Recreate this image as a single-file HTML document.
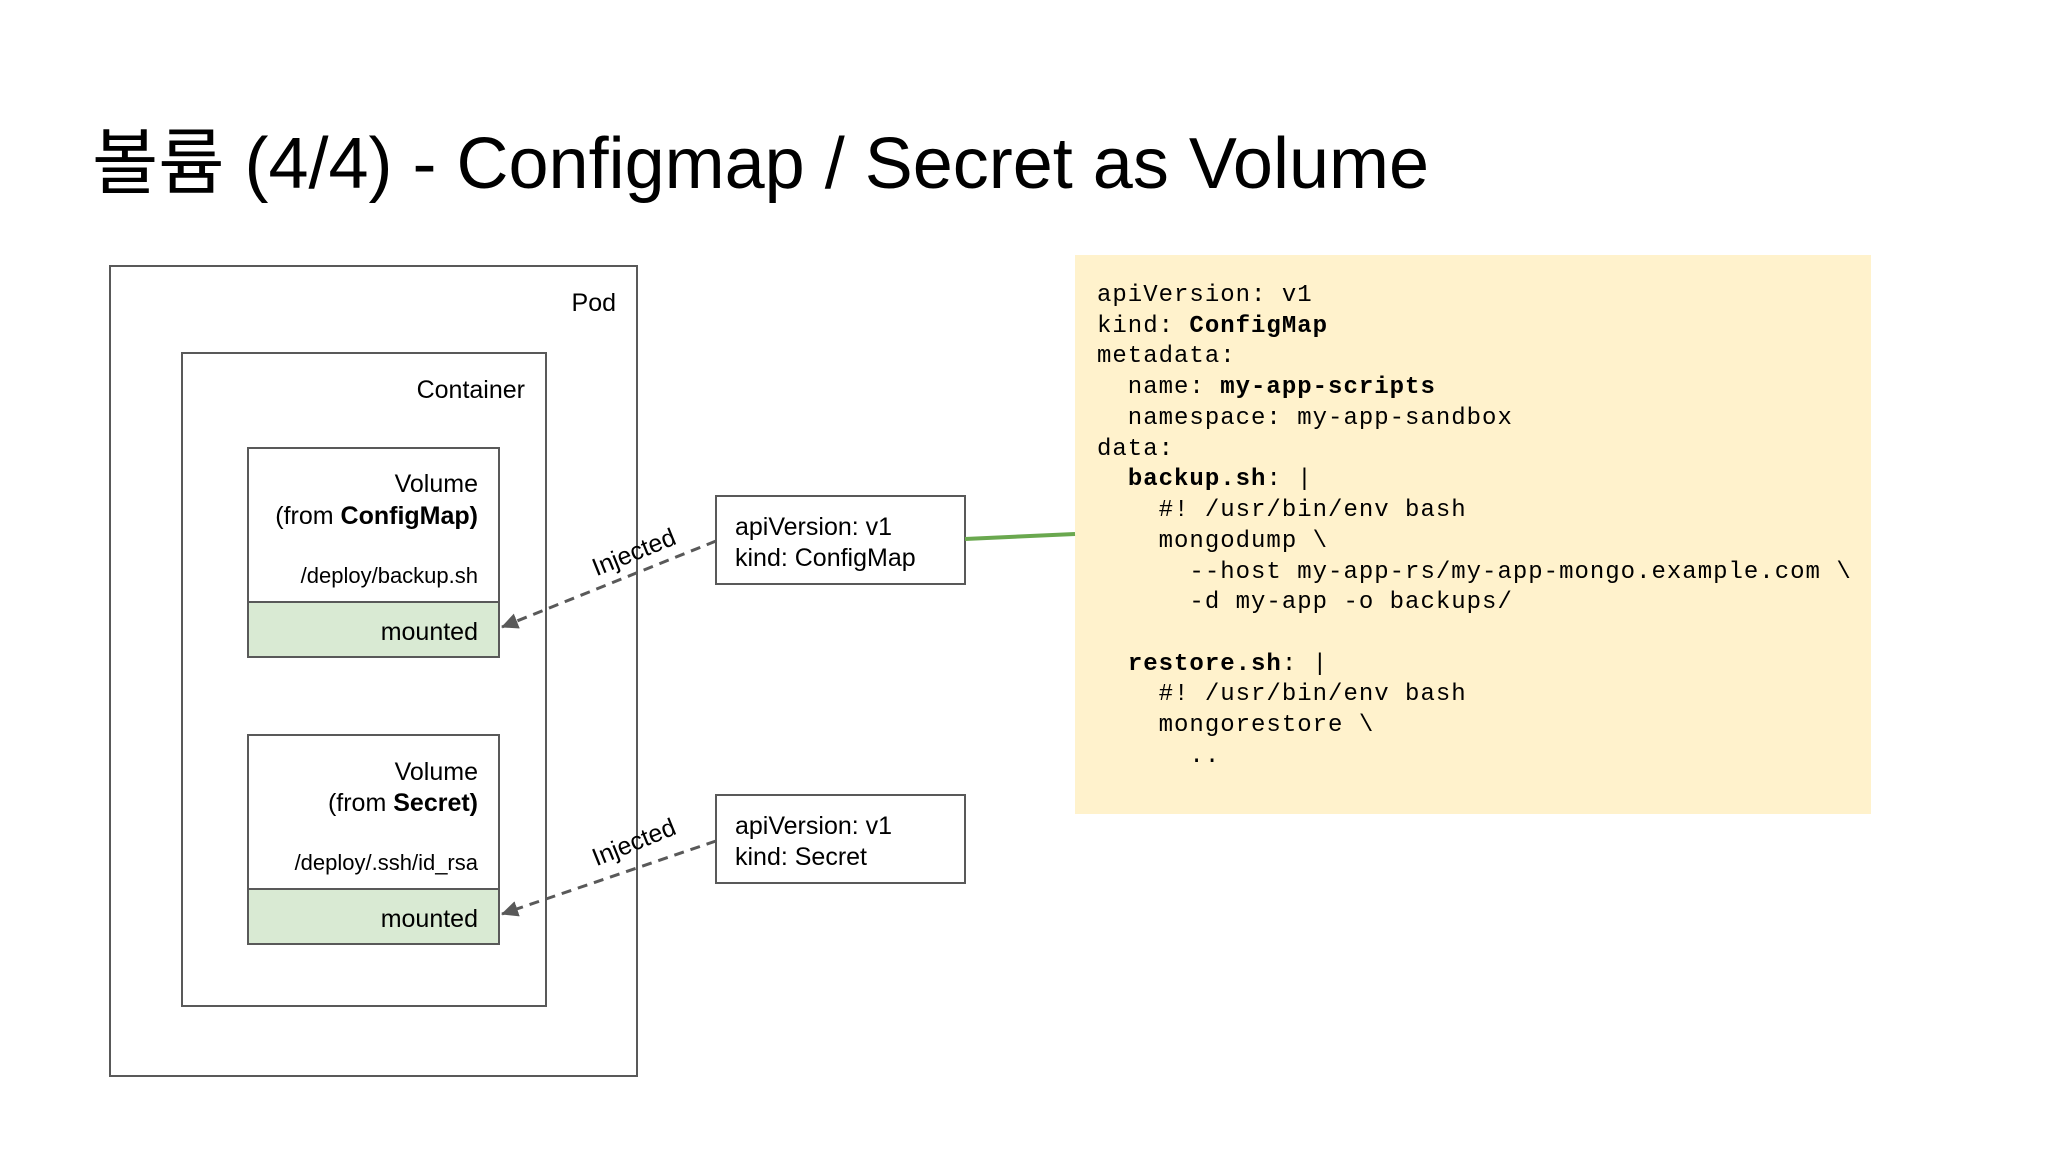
<!DOCTYPE html>
<html><head><meta charset="utf-8"><style>
html,body{margin:0;padding:0;background:#fff;}
svg{display:block;}
text{font-family:"Liberation Sans","Noto Sans CJK KR",sans-serif;fill:#000;}
.m{font-family:"Liberation Mono",monospace;font-size:24px;letter-spacing:1px;}
</style></head><body>
<svg width="2048" height="1152" viewBox="0 0 2048 1152" xmlns="http://www.w3.org/2000/svg">
<defs>
<marker id="a2" markerWidth="18" markerHeight="18" refX="16" refY="9" orient="auto" markerUnits="userSpaceOnUse"><path d="M0,1 L17,9 L0,17 z" fill="#595959"/></marker></defs>
<text x="92" y="188" font-size="72">볼륨 (4/4) - Configmap / Secret as Volume</text>
<rect x="110" y="266" width="527" height="810" fill="#fff" stroke="#595959" stroke-width="2"/>
<text x="616" y="311" font-size="25" text-anchor="end">Pod</text>
<rect x="182" y="353" width="364" height="653" fill="#fff" stroke="#595959" stroke-width="2"/>
<text x="525" y="398" font-size="25" text-anchor="end">Container</text>
<rect x="248" y="448" width="251" height="209" fill="#fff" stroke="#595959" stroke-width="2"/>
<rect x="248" y="602" width="251" height="55" fill="#d9ead3" stroke="#595959" stroke-width="2"/>
<text font-size="25" text-anchor="end"><tspan x="478" y="492">Volume</tspan><tspan x="478" y="524">(from <tspan font-weight="bold">ConfigMap)</tspan></tspan></text>
<text x="478" y="583" font-size="22" text-anchor="end">/deploy/backup.sh</text>
<text x="478" y="640" font-size="25" text-anchor="end">mounted</text>
<rect x="248" y="735" width="251" height="209" fill="#fff" stroke="#595959" stroke-width="2"/>
<rect x="248" y="889" width="251" height="55" fill="#d9ead3" stroke="#595959" stroke-width="2"/>
<text font-size="25" text-anchor="end"><tspan x="478" y="780">Volume</tspan><tspan x="478" y="811">(from <tspan font-weight="bold">Secret)</tspan></tspan></text>
<text x="478" y="870" font-size="22" text-anchor="end">/deploy/.ssh/id_rsa</text>
<text x="478" y="927" font-size="25" text-anchor="end">mounted</text>
<rect x="716" y="496" width="249" height="88" fill="#fff" stroke="#595959" stroke-width="2"/>
<text font-size="25"><tspan x="735" y="535">apiVersion: v1</tspan><tspan x="735" y="566">kind: ConfigMap</tspan></text>
<rect x="716" y="795" width="249" height="88" fill="#fff" stroke="#595959" stroke-width="2"/>
<text font-size="25"><tspan x="735" y="834">apiVersion: v1</tspan><tspan x="735" y="865">kind: Secret</tspan></text>
<line x1="716" y1="541" x2="502" y2="627" stroke="#595959" stroke-width="3" stroke-dasharray="10,7" marker-end="url(#a2)"/>
<line x1="716" y1="841" x2="502" y2="914" stroke="#595959" stroke-width="3" stroke-dasharray="10,7" marker-end="url(#a2)"/>
<text x="637" y="560" font-size="25" text-anchor="middle" transform="rotate(-22 637 560)">Injected</text>
<text x="637" y="850" font-size="25" text-anchor="middle" transform="rotate(-22 637 850)">Injected</text>
<rect x="1075" y="255" width="796" height="559" fill="#fff2cc"/>
<line x1="965" y1="539" x2="1075" y2="534" stroke="#6aa84f" stroke-width="4"/>
<text class="m" xml:space="preserve"><tspan x="1097" y="301">apiVersion: v1</tspan><tspan x="1097" y="332">kind: <tspan font-weight="bold">ConfigMap</tspan></tspan><tspan x="1097" y="362">metadata:</tspan><tspan x="1097" y="393">  name: <tspan font-weight="bold">my-app-scripts</tspan></tspan><tspan x="1097" y="424">  namespace: my-app-sandbox</tspan><tspan x="1097" y="455">data:</tspan><tspan x="1097" y="485">  <tspan font-weight="bold">backup.sh</tspan>: |</tspan><tspan x="1097" y="516">    #! /usr/bin/env bash</tspan><tspan x="1097" y="547">    mongodump \</tspan><tspan x="1097" y="578">      --host my-app-rs/my-app-mongo.example.com \</tspan><tspan x="1097" y="608">      -d my-app -o backups/</tspan><tspan x="1097" y="670">  <tspan font-weight="bold">restore.sh</tspan>: |</tspan><tspan x="1097" y="700">    #! /usr/bin/env bash</tspan><tspan x="1097" y="731">    mongorestore \</tspan><tspan x="1097" y="762">      ..</tspan></text>
</svg>
</body></html>
